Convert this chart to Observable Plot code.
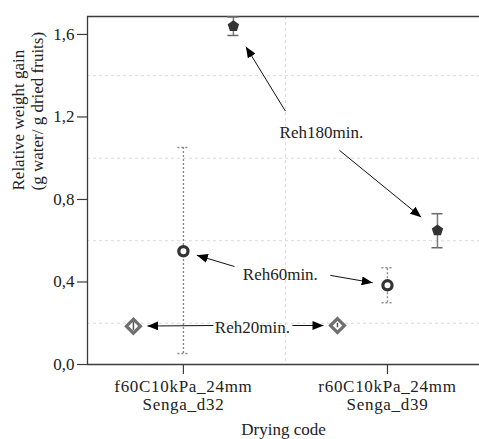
<!DOCTYPE html>
<html><head><meta charset="utf-8">
<script src="https://cdn.jsdelivr.net/npm/d3@7"></script>
<script src="https://cdn.jsdelivr.net/npm/@observablehq/plot@0.6"></script>
<style>
body{margin:0;background:#fff}
#chart svg, #chart svg text{font-family:"Liberation Serif","Times New Roman",serif !important}
#chart svg g[aria-label="x-axis tick label"] text{letter-spacing:0.7px}
</style>
</head><body><div id="chart"></div>
<script>
// ---- data ----
const categories = ["f60C10kPa_24mm\nSenga_d32", "r60C10kPa_24mm\nSenga_d39"];
const seriesNames = ["Reh20min.", "Reh60min.", "Reh180min."];
const reh20Mean = [0.186, 0.189];
const reh20Low  = [0.165, 0.178];
const reh20High = [0.207, 0.200];
const reh60Mean = [0.549, 0.384];
const reh60Low  = [0.053, 0.299];
const reh60High = [1.052, 0.469];
const reh180Mean = [1.640, 0.650];
const reh180Low  = [1.595, 0.566];
const reh180High = [1.685, 0.731];
const yTicks = [0, 0.4, 0.8, 1.2, 1.6];
const yGrid = [0.2, 0.6, 1.0, 1.4];

// annotations (data coordinates: x = category index, y = value), in series order
const labelX = [0.338, 0.475, 0.676];
const labelY = [0.179, 0.436, 1.125];
// arrow start points, target (series index, category index) and pixel gap
const arrowFromX = [0.50, 0.765, 0.25, 0.72, 0.147, 0.534];
const arrowFromY = [1.228, 1.038, 0.475, 0.432, 0.189, 0.189];
const arrowSeries = [2, 2, 1, 1, 0, 0];
const arrowCat = [0, 1, 0, 1, 0, 1];
const arrowGap = [24, 21, 14, 15, 14, 14];

// ---- layout ----
const W = 479, H = 439;
const M = {top: 16, right: 0, bottom: 75, left: 87};
const xDomain = [-0.47, 1.451];
const yDomain = [0, 1.687];
const dodge = [-0.245, 0, 0.245];
const capHalf = 5.5 / 204;
const FONT = "Liberation Serif";

const means = [reh20Mean, reh60Mean, reh180Mean];
const lows = [reh20Low, reh60Low, reh180Low];
const highs = [reh20High, reh60High, reh180High];
const rows = [];
seriesNames.forEach((s, si) => categories.forEach((c, ci) => {
  rows.push({series: s, si, ci, x: ci + dodge[si], mean: means[si][ci], low: lows[si][ci], high: highs[si][ci]});
}));
const bySeries = (si) => rows.filter(r => r.si === si);
const caps = (si) => bySeries(si).flatMap(r => [
  {x1: r.x - capHalf, x2: r.x + capHalf, y: r.low},
  {x1: r.x - capHalf, x2: r.x + capHalf, y: r.high}
]);

const xs = Plot.scale({x: {type: "linear", domain: xDomain, range: [M.left, W - M.right]}});
const ys = Plot.scale({y: {type: "linear", domain: yDomain, range: [H - M.bottom, M.top]}});
const arrows = arrowFromX.map((fx, i) => {
  const r = rows.find(d => d.si === arrowSeries[i] && d.ci === arrowCat[i]);
  const px0 = xs.apply(fx), py0 = ys.apply(arrowFromY[i]);
  const px1 = xs.apply(r.x), py1 = ys.apply(r.mean);
  const len = Math.hypot(px1 - px0, py1 - py0);
  const t = (len - arrowGap[i]) / len;
  return {x1: fx, y1: arrowFromY[i], x2: xs.invert(px0 + (px1 - px0) * t), y2: ys.invert(py0 + (py1 - py0) * t)};
});
const labels = seriesNames.map((s, i) => ({text: s, x: labelX[i], y: labelY[i]}));

function filledHead(color) {
  const ns = "http://www.w3.org/2000/svg";
  const m = document.createElementNS(ns, "marker");
  m.setAttribute("viewBox", "-11 -4.5 11 9");
  m.setAttribute("markerWidth", 11);
  m.setAttribute("markerHeight", 9);
  m.setAttribute("markerUnits", "userSpaceOnUse");
  m.setAttribute("orient", "auto");
  m.setAttribute("refX", 0);
  m.setAttribute("refY", 0);
  const p = document.createElementNS(ns, "path");
  p.setAttribute("d", "M-11,-4.5L0,0L-11,4.5Z");
  p.setAttribute("fill", "#000");
  p.setAttribute("stroke", "none");
  m.appendChild(p);
  return m;
}
const pentagon = {
  draw(ctx, size) {
    const r = Math.sqrt(size / Math.PI) * 1.15;
    for (let k = 0; k < 5; k++) {
      const a = -Math.PI / 2 + k * 2 * Math.PI / 5;
      const px = r * Math.cos(a), py = r * Math.sin(a);
      if (k === 0) ctx.moveTo(px, py); else ctx.lineTo(px, py);
    }
    ctx.closePath();
  }
};

const axisColor = "#3c3c3c";
const chart = Plot.plot({
  width: W, height: H,
  marginTop: M.top, marginRight: M.right, marginBottom: M.bottom, marginLeft: M.left,
  style: {fontFamily: FONT, background: "#fff", color: "#222", overflow: "visible"},
  x: {type: "linear", domain: xDomain},
  y: {type: "linear", domain: yDomain},
  marks: [
    // grid
    Plot.ruleY(yGrid, {stroke: "#d9d9d9", strokeDasharray: "3,3", strokeWidth: 1}),
    Plot.ruleX([0.5], {stroke: "#d9d9d9", strokeDasharray: "3,3", strokeWidth: 1}),
    // axes
    Plot.axisY({ticks: yTicks, tickFormat: d => d.toFixed(1).replace(".", ","), tickSize: 10, tickPadding: 3,
      fontSize: 17, fontFamily: FONT, label: null, stroke: axisColor, strokeWidth: 1.2}),
    Plot.axisX({ticks: [0, 1], tickFormat: i => categories[i], tickSize: 10, tickPadding: 4,
      fontSize: 17, fontFamily: FONT, label: null, stroke: axisColor, strokeWidth: 1.2, lineHeight: 1.08}),
    Plot.ruleX([xDomain[0]], {stroke: axisColor, strokeWidth: 1.3}),
    Plot.ruleY([yDomain[0], yDomain[1]], {stroke: axisColor, strokeWidth: 1.3}),
    Plot.text(["Drying code"], {frameAnchor: "bottom", dy: 70, fontSize: 17, fontFamily: FONT, letterSpacing: 0.4, fill: "#222", textAnchor: "middle"}),
    Plot.text(["Relative weight gain\n(g water/ g dried fruits)"], {frameAnchor: "left", dx: -60, rotate: -90,
      fontSize: 17, fontFamily: FONT, fill: "#222", lineHeight: 1.1}),
    // error bars: Reh60 dotted
    Plot.ruleX(bySeries(1), {x: "x", y1: "low", y2: "high", stroke: "#8a8a8a", strokeWidth: 1.4, strokeDasharray: "2,2"}),
    Plot.ruleY(caps(1), {x1: "x1", x2: "x2", y: "y", stroke: "#8a8a8a", strokeWidth: 1.4, strokeDasharray: "2,2"}),
    // Reh180 solid
    Plot.ruleX(bySeries(2), {x: "x", y1: "low", y2: "high", stroke: "#7a7a7a", strokeWidth: 1.5}),
    Plot.ruleY(caps(2), {x1: "x1", x2: "x2", y: "y", stroke: "#6a6a6a", strokeWidth: 1.5}),
    // points
    Plot.dot(bySeries(0), {x: "x", y: "mean", symbol: "diamond2", r: 6.3, stroke: "#707070", strokeWidth: 3.2, fill: "#fff"}),
    Plot.ruleX(bySeries(0), {x: "x", y1: "low", y2: "high", stroke: "#555", strokeWidth: 1.5}),
    Plot.dot(bySeries(1), {x: "x", y: "mean", symbol: "circle", r: 4.6, stroke: "#333", strokeWidth: 3.2, fill: "#fff"}),
    Plot.dot(bySeries(2), {x: "x", y: "mean", symbol: pentagon, r: 5.2, fill: "#333", stroke: "none"}),
    // annotations
    Plot.link(arrows, {x1: "x1", y1: "y1", x2: "x2", y2: "y2", stroke: "#111", strokeWidth: 1, markerEnd: filledHead}),
    Plot.text(labels, {x: "x", y: "y", text: "text", fontSize: 17, fontFamily: FONT, fill: "#222", letterSpacing: 0.4})
  ]
});
document.getElementById("chart").appendChild(chart);
</script>
</body></html>
